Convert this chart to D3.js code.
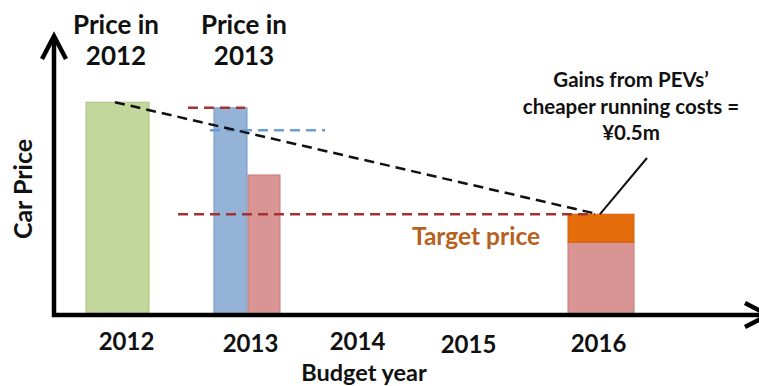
<!DOCTYPE html>
<html>
<head>
<meta charset="utf-8">
<script src="https://cdn.jsdelivr.net/npm/d3@7"></script>
<style>
  html, body { margin: 0; padding: 0; background: #fff; }
  svg { display: block; }
  text { font-family: Lato, "Open Sans", sans-serif; font-weight: 700; fill: #111; }
</style>
</head>
<body>
<svg id="chart" width="759" height="386"></svg>
<script>
// Budget years on the horizontal axis
const categories = ["2012", "2013", "2014", "2015", "2016"];

// Bars: year, series and height (price, ¥m)
const barYear   = ["2012", "2013", "2013", "2016", "2016"];
const barSeries = ["price2012", "price2013", "pev", "pev", "gain"];
const barValue  = [3.8, 3.7, 2.5, 1.3, 0.5];

// Reference levels (¥m)
const price2013Level = 3.7;
const reducedLevel = 3.3;
const targetPrice = 1.8;
const runningGain = 0.5;

// Text
const headers = [["Price in", "2012"], ["Price in", "2013"]];
const gainNote = ["Gains from PEVs\u2019", "cheaper running costs =", "\u00a50.5m"];

const colors = {
  price2012: { fill: "#c3d69b", stroke: "#a9c27a" },
  price2013: { fill: "#95b3d7", stroke: "#7396c4" },
  pev:       { fill: "#d99594", stroke: "#c97978" },
  gain:      { fill: "#e46c0a", stroke: "#d96208" }
};

const svg = d3.select("#chart");

// Scales
const x = d3.scaleOrdinal(categories, [126, 250, 357, 468, 598]);
const y = d3.scaleLinear().domain([0, 5]).range([315, 35]);

// Bar placement inside each year slot: [left offset, width]
const slot = {
  "2012|price2012": [-40, 63],
  "2013|price2013": [-36, 33],
  "2013|pev":       [-2, 32],
  "2016|pev":       [-30, 66],
  "2016|gain":      [-30, 66]
};

// Stack the running-cost gain on top of the PEV bar of the same year
const stackBase = {};
const bars = barYear.map((yr, i) => {
  const base = stackBase[yr + (barSeries[i] === "gain" ? "|pev" : "|" + barSeries[i])] || 0;
  const key = yr + "|" + barSeries[i];
  stackBase[key] = base + barValue[i];
  return { yr, series: barSeries[i], y0: base, y1: base + barValue[i], key };
});

svg.append("g").selectAll("rect")
  .data(bars)
  .join("rect")
  .attr("x", d => x(d.yr) + slot[d.key][0])
  .attr("width", d => slot[d.key][1])
  .attr("y", d => y(d.y1))
  .attr("height", d => y(d.y0) - y(d.y1))
  .attr("fill", d => colors[d.series].fill)
  .attr("stroke", d => colors[d.series].stroke)
  .attr("stroke-width", 1);

// Dashed reference lines
const dashed = svg.append("g").attr("fill", "none");
dashed.append("line")
  .attr("x1", 188).attr("x2", x("2013") - 5)
  .attr("y1", y(price2013Level)).attr("y2", y(price2013Level))
  .attr("stroke", "#a33331").attr("stroke-width", 2.5).attr("stroke-dasharray", "10,6");
dashed.append("line")
  .attr("x1", 210).attr("x2", 325)
  .attr("y1", y(reducedLevel)).attr("y2", y(reducedLevel))
  .attr("stroke", "#6d9bd6").attr("stroke-width", 2.5).attr("stroke-dasharray", "10,6");
dashed.append("line")
  .attr("x1", 178).attr("x2", x("2016") - 3)
  .attr("y1", y(targetPrice)).attr("y2", y(targetPrice))
  .attr("stroke", "#a33331").attr("stroke-width", 2.5).attr("stroke-dasharray", "10,6");
// Price path from 2012 down to the 2016 target
dashed.append("line")
  .attr("x1", x("2012") - 11).attr("y1", y(barValue[0]))
  .attr("x2", x("2016")).attr("y2", y(targetPrice))
  .attr("stroke", "#111").attr("stroke-width", 2.5).attr("stroke-dasharray", "10,6");

// Callout pointer
svg.append("line")
  .attr("x1", x("2016") + 2).attr("y1", y(targetPrice))
  .attr("x2", 647).attr("y2", 158)
  .attr("stroke", "#111").attr("stroke-width", 2);

// Axes with arrowheads
const axes = svg.append("g").attr("stroke", "#000").attr("fill", "none")
  .attr("stroke-width", 4.5).attr("stroke-linecap", "butt");
axes.append("line").attr("x1", 54).attr("x2", 54).attr("y1", y(0) + 2).attr("y2", 37);
axes.append("path").attr("d", "M42,59 L54,36 L66,59").attr("stroke-linejoin", "miter");
axes.append("line").attr("x1", 52).attr("x2", 768).attr("y1", y(0)).attr("y2", y(0));
axes.append("path").attr("d", "M745,303 L768,315 L745,327").attr("stroke-linejoin", "miter");

// Year labels under the axis
const xAxis = d3.axisBottom(x).tickSize(0).tickPadding(0);
const gx = svg.append("g").attr("transform", `translate(0,${y(0)})`).call(xAxis);
gx.select(".domain").remove();
const labelBase = [35, 37, 35, 38, 37];
gx.selectAll(".tick text")
  .attr("font-size", 24)
  .attr("fill", "#111")
  .attr("dy", null)
  .attr("y", (d, i) => labelBase[i])
  .style("font-family", "Lato, sans-serif")
  .style("font-weight", 700);

svg.append("text")
  .attr("x", 364).attr("y", 380.5)
  .attr("text-anchor", "middle").attr("font-size", 23.5)
  .text("Budget year");

svg.append("text")
  .attr("transform", "translate(32,189) rotate(-90)")
  .attr("text-anchor", "middle").attr("font-size", 25)
  .text("Car Price");

// Column headers
const headerX = [116, 244];
headers.forEach((lines, i) => {
  const t = svg.append("text").attr("text-anchor", "middle").attr("font-size", 26);
  lines.forEach((s, j) => t.append("tspan").attr("x", headerX[i]).attr("y", 34 + j * 31).text(s));
});

// Callout text
const note = svg.append("text").attr("text-anchor", "middle").attr("font-size", 20.5);
gainNote.forEach((s, j) => note.append("tspan").attr("x", 631).attr("y", 87 + j * 26.5).text(s));

svg.append("text")
  .attr("x", 476).attr("y", 245)
  .attr("text-anchor", "middle").attr("font-size", 24.5)
  .style("fill", "#b5621e")
  .text("Target price");
</script>
</body>
</html>
